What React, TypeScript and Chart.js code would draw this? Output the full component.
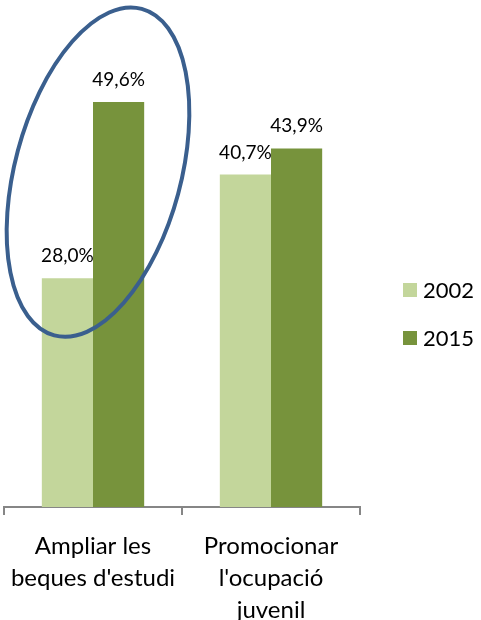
import React, { useEffect, useRef } from "react";
import { Chart, registerables } from "chart.js";

Chart.register(...registerables);

const categories: string[][] = [
  ["Ampliar les", "beques d'estudi"],
  ["Promocionar", "l'ocupació", "juvenil"],
];
const seriesLabels = ["2002", "2015"];
const values2002 = [28.0, 40.7];
const values2015 = [49.6, 43.9];
const colors = ["#c3d69b", "#77933c"];

const FONT = "Lato, 'Open Sans', sans-serif";

const fmt = (v: number) => v.toFixed(1).replace(".", ",") + "%";

const labelPlugin = {
  id: "valueLabels",
  afterDatasetsDraw(chart: any) {
    const ctx = chart.ctx;
    ctx.save();
    ctx.font = `19px ${FONT}`;
    ctx.fillStyle = "#000";
    ctx.textAlign = "center";
    ctx.textBaseline = "alphabetic";
    chart.data.datasets.forEach((ds: any, di: number) => {
      const meta = chart.getDatasetMeta(di);
      meta.data.forEach((bar: any, i: number) => {
        ctx.fillText(fmt(ds.data[i]), bar.x, bar.y - 16);
      });
    });
    ctx.restore();
  },
};

const ellipsePlugin = {
  id: "ellipse",
  afterDraw(chart: any) {
    const ctx = chart.ctx;
    const xs = chart.scales.x;
    const ys = chart.scales.y;
    const cx = xs.getPixelForValue(0) + 5;
    const cy = ys.getPixelForValue(41);
    ctx.save();
    ctx.strokeStyle = "#3a5f8e";
    ctx.lineWidth = 4;
    ctx.beginPath();
    ctx.ellipse(cx, cy, 83, 169, (15 * Math.PI) / 180, 0, Math.PI * 2);
    ctx.stroke();
    ctx.restore();
  },
};

const legendPlugin = {
  id: "sideLegend",
  afterDraw(chart: any) {
    const ctx = chart.ctx;
    const area = chart.chartArea;
    const x0 = area.right + 43;
    const midY = chart.height / 2 + 4;
    const gap = 48;
    ctx.save();
    ctx.font = `22px ${FONT}`;
    ctx.textBaseline = "middle";
    ctx.textAlign = "left";
    chart.data.datasets.forEach((ds: any, i: number) => {
      const y = midY + (i - 0.5) * gap;
      ctx.fillStyle = ds.backgroundColor;
      ctx.fillRect(x0, y - 7, 14, 14);
      ctx.fillStyle = "#000";
      ctx.fillText(ds.label, x0 + 20, y + 1);
    });
    ctx.restore();
  },
};

export default function App() {
  const ref = useRef<HTMLCanvasElement | null>(null);
  useEffect(() => {
    if (!ref.current) return;
    const chart = new Chart(ref.current, {
      type: "bar",
      data: {
        labels: categories,
        datasets: [
          { label: seriesLabels[0], data: values2002, backgroundColor: colors[0] },
          { label: seriesLabels[1], data: values2015, backgroundColor: colors[1] },
        ],
      },
      options: {
        responsive: false,
        animation: false,
        layout: { padding: { left: 4, right: 121, top: 17, bottom: 0 } },
        datasets: { bar: { barPercentage: 1, categoryPercentage: 0.575 } },
        plugins: { legend: { display: false }, tooltip: { enabled: false } },
        scales: {
          y: { display: false, min: 0, max: 60 },
          x: {
            grid: {
              display: true,
              drawOnChartArea: false,
              drawTicks: true,
              tickLength: 8,
              color: "#868686",
              lineWidth: 2,
              offset: true,
            },
            border: { display: true, color: "#868686", width: 2 },
            ticks: {
              color: "#000",
              font: { family: FONT, size: 24, lineHeight: 1.33 },
              padding: 15,
              maxRotation: 0,
              autoSkip: false,
            },
            afterFit: (s: any) => {
              s.height = 113;
              s.paddingLeft = 0;
              s.paddingRight = 0;
            },
          },
        },
      },
      plugins: [labelPlugin, ellipsePlugin, legendPlugin],
    });
    return () => chart.destroy();
  }, []);
  return (
    <div style={{ position: "fixed", left: 0, top: 0, width: 481, height: 620, background: "#fff" }}>
      <canvas ref={ref} width={481} height={620} style={{ display: "block" }} />
    </div>
  );
}
